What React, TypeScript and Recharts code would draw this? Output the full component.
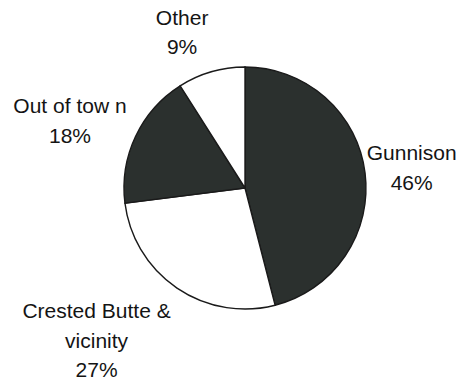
import { Cell, Pie, PieChart } from 'recharts'

const categories = ['Gunnison', 'Crested Butte & vicinity', 'Out of town', 'Other']
const shares = [46, 27, 18, 9]
// how each category is written on the picture
const labelLines = [['Gunnison'], ['Crested Butte &', 'vicinity'], ['Out of tow n'], ['Other']]

const data = categories.map((name, i) => ({ name, value: shares[i] }))

const DARK = '#2b302e'
const FILLS = [DARK, '#ffffff', DARK, '#ffffff']
const RADIAN = Math.PI / 180
const LABEL_GAP = 47
const LINE_H = 29.5
// hand-tuned nudges so labels sit where the original put them
const NUDGE: Record<string, [number, number]> = {
  Gunnison: [0, 0],
  'Crested Butte & vicinity': [-54, 13],
  'Out of town': [-23, 3.5],
  Other: [-16, 5],
}

function renderLabel(props: any) {
  const { cx, cy, midAngle, outerRadius, index, value, name } = props
  const r = outerRadius + LABEL_GAP
  const [nx, ny] = NUDGE[name] ?? [0, 0]
  const x = cx + r * Math.cos(-midAngle * RADIAN) + nx
  const y = cy + r * Math.sin(-midAngle * RADIAN) + ny
  const lines = [...labelLines[index], `${value}%`]
  const top = y - ((lines.length - 1) * LINE_H) / 2
  return (
    <text
      key={name}
      x={x}
      y={top}
      textAnchor="middle"
      dominantBaseline="central"
      fill="#141414"
      fontSize={21}
      fontFamily="'Liberation Sans', Arial, sans-serif"
    >
      {lines.map((line, i) => (
        <tspan key={i} x={x} y={top + i * LINE_H} dominantBaseline="central">
          {line}
        </tspan>
      ))}
    </text>
  )
}

export default function App() {
  return (
    <div style={{ position: 'absolute', top: 0, left: 0, width: 458, height: 381, background: '#fff' }}>
      <PieChart width={458} height={381} margin={{ top: 0, right: 0, bottom: 0, left: 0 }}>
        <Pie
          data={data}
          dataKey="value"
          nameKey="name"
          cx={245}
          cy={188}
          outerRadius={121}
          startAngle={90}
          endAngle={-270}
          stroke="#1a1a1a"
          strokeWidth={1.4}
          label={renderLabel}
          labelLine={false}
          isAnimationActive={false}
        >
          {data.map((d, i) => (
            <Cell key={d.name} fill={FILLS[i]} />
          ))}
        </Pie>
      </PieChart>
    </div>
  )
}
